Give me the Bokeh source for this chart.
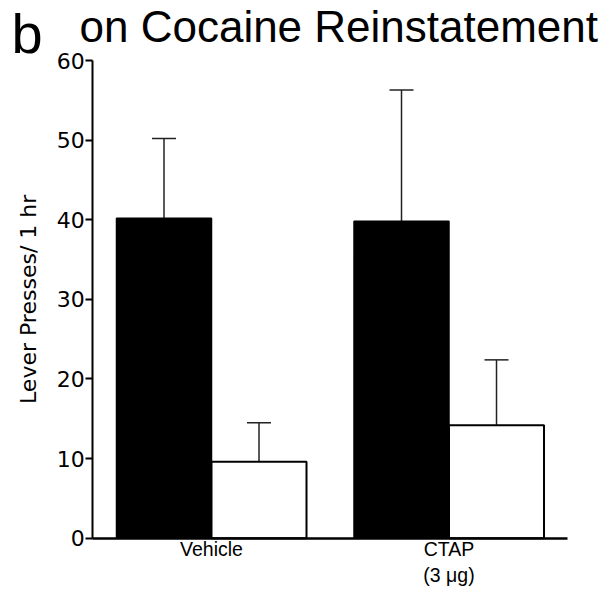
import math
from bokeh.plotting import figure
from bokeh.models import (Range1d, FixedTicker, Label, Whisker,
                          ColumnDataSource, TeeHead)
from bokeh.transform import dodge
from bokeh.embed import file_html
from bokeh.resources import INLINE

# ---- data ----
groups = ["Vehicle", "CTAP"]
group_sub = "(3 μg)"
black_means = [40.2, 39.8]
black_err = [10.0, 16.5]
white_means = [9.6, 14.2]
white_err = [4.9, 8.2]
yticks = [0, 10, 20, 30, 40, 50, 60]
panel_letter = "b"
title_text = "on Cocaine Reinstatement"
ylabel = "Lever Presses/ 1 hr"

FONT = "Liberation Sans"
FONT2 = "DejaVu Sans"

x_idx = list(range(len(groups)))
src = ColumnDataSource(dict(
    x=x_idx,
    b_mean=black_means,
    b_up=[m + e for m, e in zip(black_means, black_err)],
    w_mean=white_means,
    w_up=[m + e for m, e in zip(white_means, white_err)],
))

# the frame covers the whole canvas; axes are placed with fixed_location
p = figure(width=605, height=592,
           x_range=Range1d(-0.8884, 1.6589), y_range=Range1d(-6.82, 67.54),
           output_backend="svg", toolbar_location=None, min_border=0)
p.outline_line_color = None
p.grid.visible = False
p.background_fill_color = "white"
p.border_fill_color = "white"

p.vbar(x=dodge("x", -0.2), top="b_mean", width=0.4, source=src,
       fill_color="black", line_color="black", line_width=1.5)
p.vbar(x=dodge("x", 0.2), top="w_mean", width=0.4, source=src,
       fill_color="white", line_color="black", line_width=2)

for off, lo, up in [(-0.2, "b_mean", "b_up"), (0.2, "w_mean", "w_up")]:
    w = Whisker(source=src, base=dodge("x", off), lower=lo, upper=up,
                dimension="height",
                upper_head=TeeHead(size=24, line_width=1.5, line_color="#222222"),
                lower_head=None, line_width=1.5, line_color="#222222")
    p.add_layout(w)

# y axis
ya = p.yaxis[0]
ya.fixed_location = -0.5
ya.bounds = (0, 60)
ya.ticker = FixedTicker(ticks=yticks)
ya.minor_tick_line_color = None
ya.major_tick_in = 0
ya.major_tick_out = 7
ya.major_tick_line_width = 2
ya.axis_line_width = 2
ya.major_label_standoff = 1
ya.major_label_text_font = FONT2
ya.major_label_text_font_size = "22px"
ya.major_label_text_color = "black"

# x axis
xa = p.xaxis[0]
xa.fixed_location = 0
xa.bounds = (-0.5, 1.5)
xa.ticker = FixedTicker(ticks=x_idx)
xa.major_label_overrides = dict(zip(x_idx, groups))
xa.axis_line_width = 2.5
xa.major_tick_line_color = None
xa.minor_tick_line_color = None
xa.major_tick_out = 0
xa.major_tick_in = 0
xa.major_label_standoff = 0
xa.major_label_text_font = FONT
xa.major_label_text_font_size = "19.5px"
xa.major_label_text_color = "black"

p.add_layout(Label(x=x_idx[1], y=-4.56, text=group_sub, text_align="center",
                   text_baseline="alphabetic", text_font=FONT,
                   text_font_size="19.5px", text_color="black"))

p.add_layout(Label(x=-0.772, y=30, text=ylabel, angle=math.pi / 2,
                   text_align="center", text_baseline="middle",
                   text_font=FONT2, text_font_size="22px", text_color="black"))

p.add_layout(Label(x=-0.5558, y=64.27, text=title_text, text_align="left",
                   text_baseline="alphabetic", text_font=FONT,
                   text_font_size="44px", text_color="black"))
p.add_layout(Label(x=-0.842, y=63.35, text=panel_letter, text_align="left",
                   text_baseline="alphabetic", text_font=FONT,
                   text_font_size="56px", text_color="black"))

open("out.html", "w").write(file_html(p, INLINE))
